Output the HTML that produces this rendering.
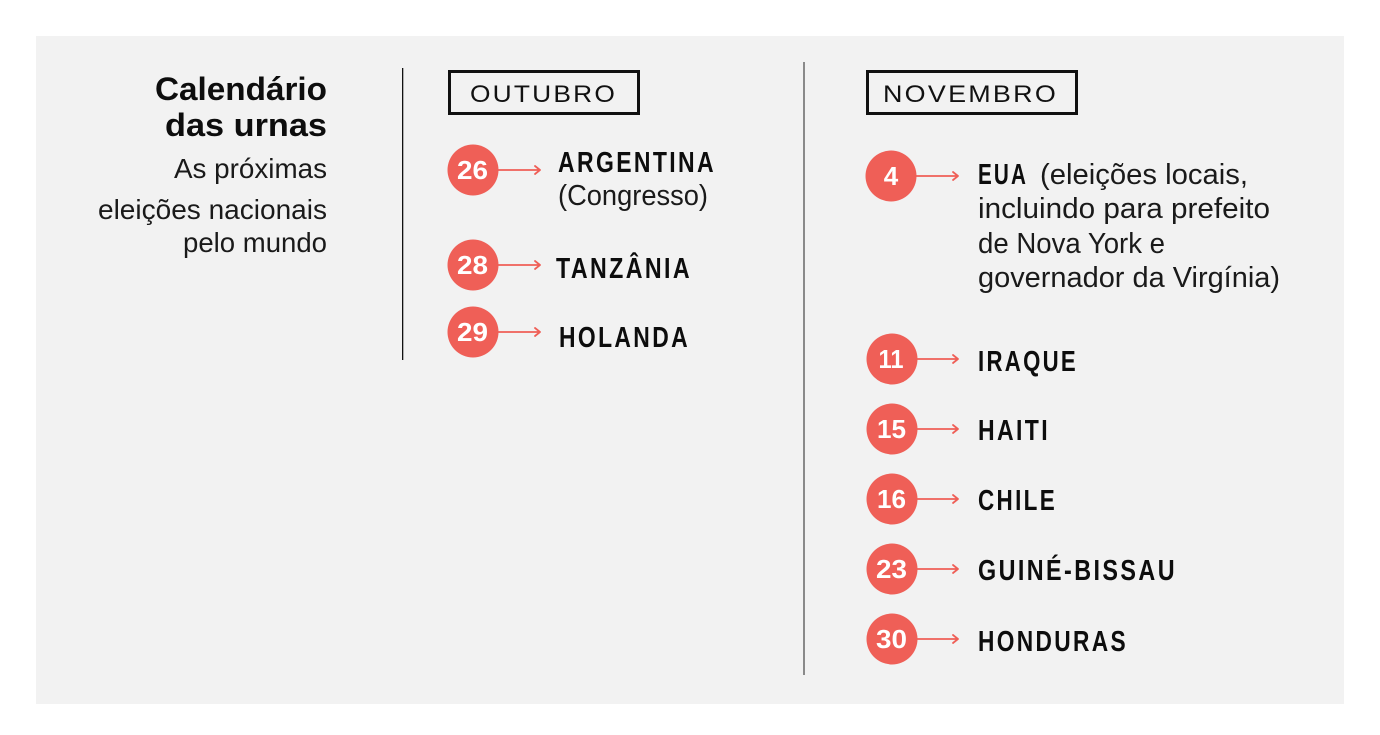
<!DOCTYPE html>
<html>
<head>
<meta charset="utf-8">
<style>
  html,body{margin:0;padding:0;background:#fff;}
  svg{display:block;}
  text{font-family:"Liberation Sans", Arial, sans-serif;}
  .t{font-weight:bold;font-size:32px;fill:#0d0d0d;}
  .s{font-size:28px;fill:#1a1a1a;}
  .m{font-size:24px;fill:#111;letter-spacing:2px;}
  .c{font-weight:bold;font-size:29px;fill:#0d0d0d;letter-spacing:3px;}
  .n{font-weight:bold;font-size:26px;fill:#fff;}
  .d{font-size:29px;fill:#1a1a1a;}
</style>
</head>
<body>
<svg width="1380" height="735" viewBox="0 0 1380 735" xmlns="http://www.w3.org/2000/svg">
  <rect x="0" y="0" width="1380" height="735" fill="#ffffff"/>
  <rect x="36" y="36" width="1308" height="668" fill="#f2f2f2"/>

  <!-- Left title -->
  <text class="t" x="155" y="100" textLength="172" lengthAdjust="spacingAndGlyphs">Calendário</text>
  <text class="t" x="165" y="136" textLength="162" lengthAdjust="spacingAndGlyphs">das urnas</text>
  <text class="s" x="174" y="178" textLength="153" lengthAdjust="spacingAndGlyphs">As próximas</text>
  <text class="s" x="98" y="219" textLength="229" lengthAdjust="spacingAndGlyphs">eleições nacionais</text>
  <text class="s" x="183" y="252" textLength="144" lengthAdjust="spacingAndGlyphs">pelo mundo</text>

  <!-- dividers -->
  <rect x="402" y="68" width="1.3" height="292" fill="#111"/>
  <rect x="803" y="62" width="2" height="613" fill="#8a8a8a"/>

  <!-- Month boxes -->
  <rect x="449.5" y="71.5" width="189" height="42" fill="none" stroke="#111" stroke-width="3"/>
  <text class="m" x="470" y="102" textLength="147" lengthAdjust="spacingAndGlyphs">OUTUBRO</text>
  <rect x="867.5" y="71.5" width="209" height="42" fill="none" stroke="#111" stroke-width="3"/>
  <text class="m" x="883" y="102" textLength="175" lengthAdjust="spacingAndGlyphs">NOVEMBRO</text>

  <!-- circles -->
  <g fill="#ef5f57" stroke="none">
    <circle cx="473" cy="170" r="25.5"/>
    <circle cx="473" cy="265" r="25.5"/>
    <circle cx="473" cy="332" r="25.5"/>
    <circle cx="891" cy="176" r="25.5"/>
    <circle cx="892" cy="359" r="25.5"/>
    <circle cx="892" cy="429" r="25.5"/>
    <circle cx="892" cy="499" r="25.5"/>
    <circle cx="892" cy="569" r="25.5"/>
    <circle cx="892" cy="639" r="25.5"/>
  </g>
  <g stroke="#ef5f57" stroke-width="1.8" fill="none" stroke-linecap="round" stroke-linejoin="round">
    <path d="M498 170 H540 M535 166 L540 170 L535 174"/>
    <path d="M498 265 H540 M535 261 L540 265 L535 269"/>
    <path d="M498 332 H540 M535 328 L540 332 L535 336"/>
    <path d="M916 176 H958 M953 172 L958 176 L953 180"/>
    <path d="M917 359 H958 M953 355 L958 359 L953 363"/>
    <path d="M917 429 H958 M953 425 L958 429 L953 433"/>
    <path d="M917 499 H958 M953 495 L958 499 L953 503"/>
    <path d="M917 569 H958 M953 565 L958 569 L953 573"/>
    <path d="M917 639 H958 M953 635 L958 639 L953 643"/>
  </g>
  <g text-anchor="middle">
    <text class="n" x="472.5" y="179" textLength="31" lengthAdjust="spacingAndGlyphs">26</text>
    <text class="n" x="472.5" y="274" textLength="31" lengthAdjust="spacingAndGlyphs">28</text>
    <text class="n" x="472.5" y="341" textLength="31" lengthAdjust="spacingAndGlyphs">29</text>
    <text class="n" x="891" y="185">4</text>
    <text class="n" x="891" y="368" textLength="25" lengthAdjust="spacingAndGlyphs">11</text>
    <text class="n" x="891.5" y="438" textLength="29" lengthAdjust="spacingAndGlyphs">15</text>
    <text class="n" x="891.5" y="508" textLength="29" lengthAdjust="spacingAndGlyphs">16</text>
    <text class="n" x="891.5" y="578" textLength="31" lengthAdjust="spacingAndGlyphs">23</text>
    <text class="n" x="891.5" y="648" textLength="31" lengthAdjust="spacingAndGlyphs">30</text>
  </g>

  <!-- Outubro labels -->
  <text class="c" x="558" y="172" textLength="158" lengthAdjust="spacingAndGlyphs">ARGENTINA</text>
  <text class="d" x="558" y="205" textLength="150" lengthAdjust="spacingAndGlyphs">(Congresso)</text>
  <text class="c" x="556" y="278" textLength="136" lengthAdjust="spacingAndGlyphs">TANZÂNIA</text>
  <text class="c" x="559" y="347" textLength="131" lengthAdjust="spacingAndGlyphs">HOLANDA</text>

  <!-- Novembro labels -->
  <text class="c" x="978" y="184" textLength="50" lengthAdjust="spacingAndGlyphs">EUA</text>
  <text class="d" x="1040" y="184" textLength="208" lengthAdjust="spacingAndGlyphs">(eleições locais,</text>
  <text class="d" x="978" y="218" textLength="292" lengthAdjust="spacingAndGlyphs">incluindo para prefeito</text>
  <text class="d" x="978" y="253" textLength="187" lengthAdjust="spacingAndGlyphs">de Nova York e</text>
  <text class="d" x="978" y="287" textLength="302" lengthAdjust="spacingAndGlyphs">governador da Virgínia)</text>

  <text class="c" x="978" y="371" textLength="100" lengthAdjust="spacingAndGlyphs">IRAQUE</text>
  <text class="c" x="978" y="440" textLength="72" lengthAdjust="spacingAndGlyphs">HAITI</text>
  <text class="c" x="978" y="510" textLength="79" lengthAdjust="spacingAndGlyphs">CHILE</text>
  <text class="c" x="978" y="580" textLength="199" lengthAdjust="spacingAndGlyphs">GUINÉ-BISSAU</text>
  <text class="c" x="978" y="651" textLength="150" lengthAdjust="spacingAndGlyphs">HONDURAS</text>
</svg>
</body>
</html>
